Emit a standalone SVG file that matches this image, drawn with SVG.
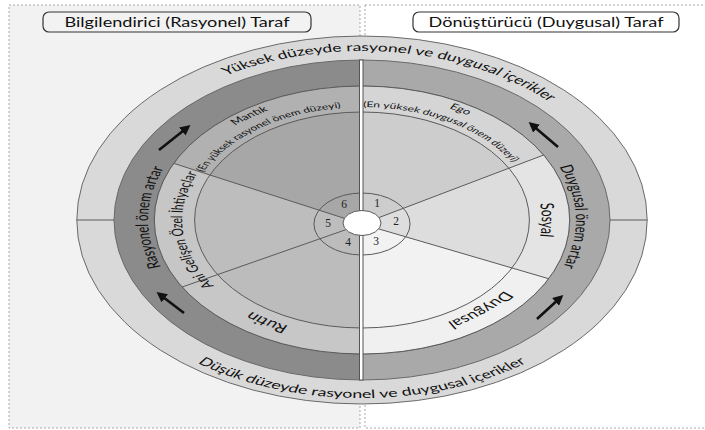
<svg xmlns="http://www.w3.org/2000/svg" width="705" height="430" viewBox="0 0 705 430">
<style>
text{font-family:Lato,"Liberation Sans",sans-serif;fill:#111}
.sk{stroke:#6a6a6a;stroke-width:1;vector-effect:non-scaling-stroke}
.ln{stroke:#5a5a5a;stroke-width:1;fill:none;vector-effect:non-scaling-stroke}
.num{font-family:"Liberation Serif",serif;font-size:11.5px;text-anchor:middle;fill:#222}
.arr{stroke:#111;stroke-width:2.6;fill:none;marker-end:url(#ah)}
.panel{stroke:#a8a8a8;stroke-width:1;stroke-dasharray:2 2}
</style>
<defs>
<path id="p169" d="M-169,0 A169,169 0 1 1 169,0 A169,169 0 1 1 -169,0"/>
<path id="p178" d="M-178,0 A178,178 0 1 0 178,0 A178,178 0 1 0 -178,0"/>
<path id="p138" d="M0,138 A138,138 0 1 1 0,-138 A138,138 0 1 1 0,138"/>
<path id="p116" d="M0,116 A116,116 0 1 1 0,-116 A116,116 0 1 1 0,116"/>
<path id="p113" d="M0,113 A113,113 0 1 1 0,-113 A113,113 0 1 1 0,113"/>
<path id="p125" d="M0,125 A125,125 0 1 1 0,-125 A125,125 0 1 1 0,125"/>
<clipPath id="ic"><circle cx="0" cy="0" r="108"/></clipPath>
<marker id="ah" viewBox="0 0 10 10" refX="7" refY="5" markerWidth="4" markerHeight="4" orient="auto">
<path d="M0,0 L10,5 L0,10 Z" fill="#111"/>
</marker>
</defs>

<g id="panels">
<rect class="panel" x="9" y="5" width="351" height="423" fill="#f2f2f2"/>
<rect class="panel" x="365" y="5" width="360" height="423" fill="#ffffff"/>
</g>

<g id="title-left">
<rect x="43" y="12" width="268" height="20" rx="6" fill="none" stroke="#333" stroke-width="1.2"/>
<text transform="translate(177 27) scale(1.45 1)" text-anchor="middle" font-size="12.5">Bilgilendirici (Rasyonel) Taraf</text>
</g>
<g id="title-right">
<rect x="413" y="12" width="266" height="20" rx="6" fill="none" stroke="#333" stroke-width="1.2"/>
<text transform="translate(546 27) scale(1.45 1)" text-anchor="middle" font-size="12.5">Dönüştürücü (Duygusal) Taraf</text>
</g>

<g id="wheel" transform="translate(362 220) scale(1.55 1)">
<circle class="sk" r="184" fill="#d9d9d9"/>
<path class="sk" d="M0,-160 A160,160 0 0 0 0,160 L0,134 A134,134 0 0 1 0,-134 Z" fill="#8b8b8b"/>
<path class="sk" d="M0,-160 A160,160 0 0 1 0,160 L0,134 A134,134 0 0 0 0,-134 Z" fill="#a9a9a9"/>
<line class="ln" x1="-184" y1="0" x2="-160" y2="0"/>
<line class="ln" x1="160" y1="0" x2="184" y2="0"/>

<g id="band">
<path d="M0,4 L0,-134 A134,134 0 0 0 -121.4,-56.6 Z" fill="#b1b1b1"/>
<path d="M0,4 L-121.4,-56.6 A134,134 0 0 0 -116,67 Z" fill="#c6c6c6"/>
<path d="M0,4 L-116,67 A134,134 0 0 0 0,134 Z" fill="#c7c7c7"/>
<path d="M0,4 L0,-134 A134,134 0 0 1 117.2,-65 Z" fill="#d5d5d5"/>
<path d="M0,4 L117.2,-65 A134,134 0 0 1 120.4,58.7 Z" fill="#e4e4e4"/>
<path d="M0,4 L120.4,58.7 A134,134 0 0 1 0,134 Z" fill="#f0f0f0"/>
</g>
<g id="inner" clip-path="url(#ic)">
<path d="M0,4 L0,-134 A134,134 0 0 0 -121.4,-56.6 Z" fill="#a7a7a7"/>
<path d="M0,4 L-121.4,-56.6 A134,134 0 0 0 -116,67 Z" fill="#bdbdbd"/>
<path d="M0,4 L-116,67 A134,134 0 0 0 0,134 Z" fill="#bcbcbc"/>
<path d="M0,4 L0,-134 A134,134 0 0 1 117.2,-65 Z" fill="#cdcdcd"/>
<path d="M0,4 L117.2,-65 A134,134 0 0 1 120.4,58.7 Z" fill="#dddddd"/>
<path d="M0,4 L120.4,58.7 A134,134 0 0 1 0,134 Z" fill="#f2f2f2"/>
</g>
<circle class="ln" r="134"/>
<circle class="ln" r="108"/>
<g id="dividers">
<line class="ln" x1="0" y1="4" x2="-121.4" y2="-56.6"/>
<line class="ln" x1="0" y1="4" x2="-116" y2="67"/>
<line class="ln" x1="0" y1="4" x2="117.2" y2="-65"/>
<line class="ln" x1="0" y1="4" x2="120.4" y2="58.7"/>
</g>
<circle class="ln" cx="0" cy="4" r="31"/>

<text font-size="11.3" text-anchor="middle"><textPath href="#p169" startOffset="27%">Yüksek düzeyde rasyonel ve duygusal içerikler</textPath></text>
<text font-size="11.5" text-anchor="middle"><textPath href="#p178" startOffset="25%">Düşük düzeyde rasyonel ve duygusal içerikler</textPath></text>
<text font-size="11.3" text-anchor="middle"><textPath href="#p138" startOffset="25.3%">Rasyonel önem artar</textPath></text>
<text font-size="11.3" text-anchor="middle"><textPath href="#p138" startOffset="74.6%">Duygusal önem artar</textPath></text>
<text font-size="8.5" text-anchor="middle"><textPath href="#p125" startOffset="40.3%">Mantık</textPath></text>
<text font-size="8.5" text-anchor="middle"><textPath href="#p125" startOffset="58.3%">Ego</textPath></text>
<text font-size="7.8" text-anchor="middle"><textPath href="#p113" startOffset="40%">(En yüksek rasyonel önem düzeyi)</textPath></text>
<text font-size="7.8" text-anchor="middle"><textPath href="#p113" startOffset="58.3%">(En yüksek duygusal önem düzeyi)</textPath></text>
<text font-size="10.3" text-anchor="middle"><textPath href="#p116" startOffset="23.5%">Ani Gelişen Özel İhtiyaçlar</textPath></text>
<text font-size="12" text-anchor="middle"><textPath href="#p116" startOffset="75%">Sosyal</textPath></text>
<text font-size="12" text-anchor="middle"><textPath href="#p116" startOffset="88.8%">Duygusal</textPath></text>
<text font-size="12" text-anchor="middle"><textPath href="#p116" startOffset="8.6%">Rutin</textPath></text>
</g>

<rect x="359.5" y="60" width="3.5" height="320" fill="#ffffff" stroke="#555" stroke-width="1"/>
<ellipse cx="362" cy="223" rx="19" ry="12.5" fill="#ffffff" stroke="#5a5a5a" stroke-width="1"/>

<g id="numbers">
<text class="num" x="344" y="208">6</text>
<text class="num" x="377" y="207">1</text>
<text class="num" x="396" y="225">2</text>
<text class="num" x="376" y="245">3</text>
<text class="num" x="348" y="246">4</text>
<text class="num" x="328" y="227">5</text>
</g>

<g id="connectors">
<line class="arr" x1="159" y1="150" x2="188" y2="127"/>
<line class="arr" x1="184" y1="313" x2="159" y2="294"/>
<line class="arr" x1="558" y1="147" x2="531" y2="124"/>
<line class="arr" x1="537" y1="319" x2="561" y2="297"/>
</g>
</svg>
